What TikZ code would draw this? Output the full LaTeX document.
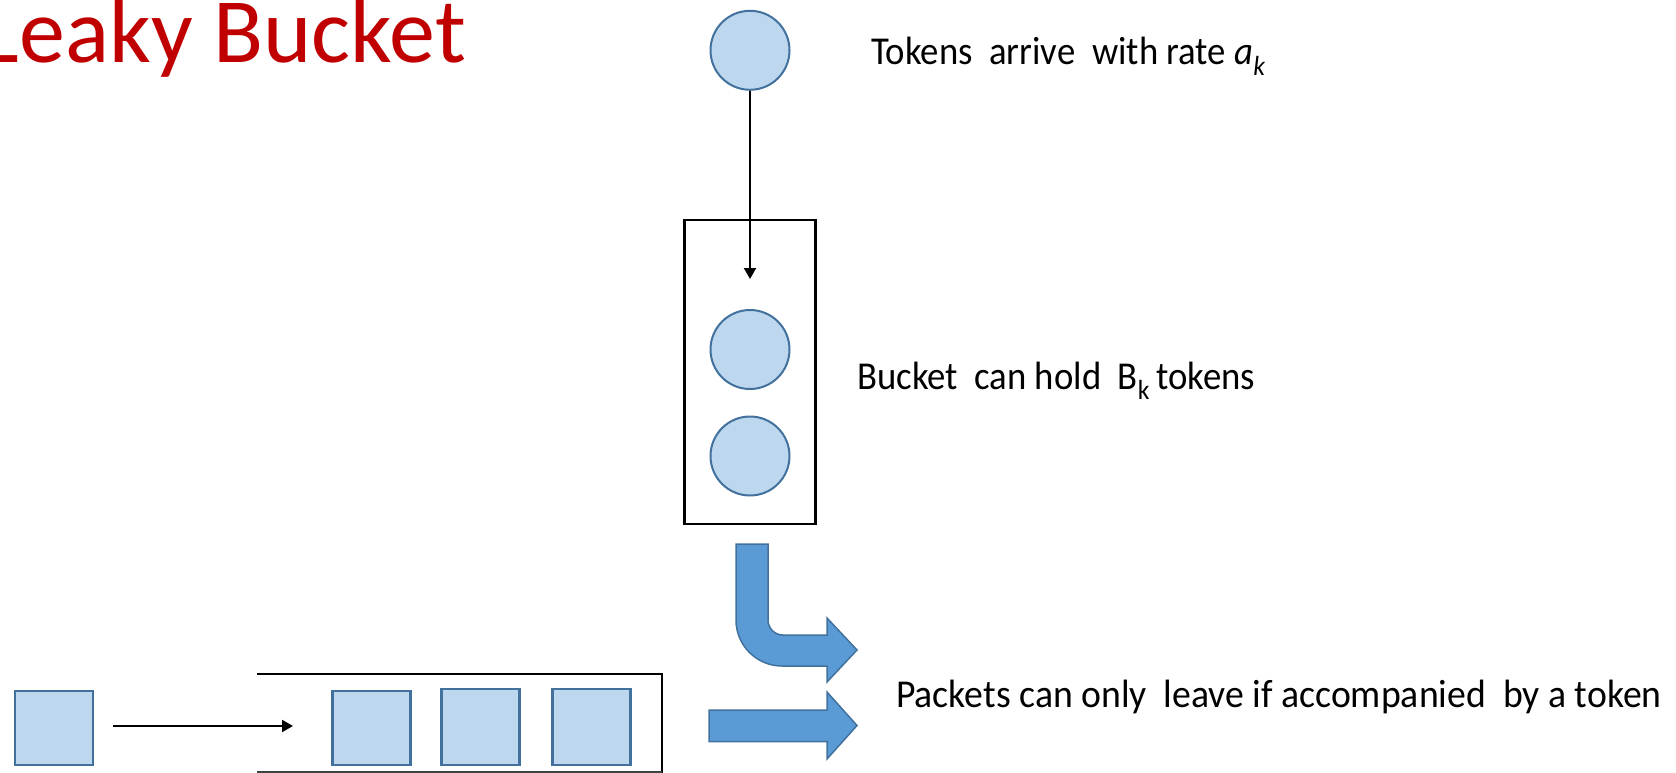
\documentclass[tikz,border=0pt]{standalone}
\usepackage{fontspec}
\setmainfont{Carlito}
\usetikzlibrary{arrows.meta}

\definecolor{tokfill}{RGB}{189,215,238}
\definecolor{tokline}{RGB}{65,113,156}
\definecolor{flowfill}{RGB}{91,155,213}
\definecolor{titlered}{RGB}{192,0,0}

% labels are set slightly condensed
\newcommand{\narrow}[2][0.93]{\scalebox{#1}[1]{#2}}

\tikzset{
  token/.style={circle, draw=tokline, fill=tokfill, line width=2pt, minimum size=79pt, inner sep=0pt},
  packet/.style={rectangle, draw=tokline, fill=tokfill, line width=2.4pt, minimum width=78pt, minimum height=74pt, inner sep=0pt},
  bucketbox/.style={rectangle, draw=black, line width=2.5pt, minimum width=131pt, minimum height=304pt, inner sep=0pt},
  feed/.style={draw=black, line width=2pt, -{Triangle[length=11pt,width=12pt]}},
  flow/.style={draw=tokline, fill=flowfill, line width=1.5pt, line join=miter},
  label/.style={anchor=base west, inner sep=0pt, font=\fontsize{39.5}{44}\selectfont},
}

\begin{document}
\begin{tikzpicture}[x=1pt, y=-1pt]
  \useasboundingbox (0,0) rectangle (1676,773);

  % title
  \node[anchor=base east, inner sep=0pt, text=titlered, font=\fontsize{92}{100}\selectfont] (title) at (466,63) {Leaky Bucket};

  % token source and the bucket
  \node[token] (src) at (750,50.3) {};
  \node[bucketbox] (bucket) at (750,372) {};
  \node[token] (b1) at (750,349.5) {};
  \node[token] (b2) at (750,456) {};
  \coordinate (drop) at (750,279);
  \draw[feed] (src.south) -- (drop);

  \node[label] (ltok) at (871,65) {\narrow{Tokens\ \ arrive\ \ with rate \textit{a}\textsubscript{\textit{k}}}};
  \node[label] (lbkt) at (857,389.3) {\narrow{Bucket\ \ can hold\ \ B\textsubscript{k}\,tokens}};

  % bent arrow: tokens leaving the bucket
  \path[flow] (736,544) -- (768,544) -- (768,620)
    .. controls (768,628.3) and (774.7,635) .. (783,635)
    -- (827,635) -- (827,618) -- (857,650) -- (827,682) -- (827,666) -- (782,666)
    .. controls (756.6,666) and (736,645.4) .. (736,620) -- cycle;

  % straight arrow: packets leaving the queue
  \path[flow] (709,710) -- (827,710) -- (827,692) -- (857,725.5) -- (827,759) -- (827,741.5) -- (709,741.5) -- cycle;

  \node[label] (lpkt) at (896,707) {\narrow[0.955]{Packets can only\ \ leave if accompanied\ \ by a token}};

  % packet queue
  \node[packet] (p0) at (54.2,728) {};
  \coordinate (qin) at (113,726);
  \coordinate (qend) at (293,726);
  \draw[feed] (qin) -- (qend);

  \draw[black, line width=2pt] (257,674.3) -- (662.3,674.3) -- (662.3,773);
  \draw[black!75, line width=1.5pt] (257,771.8) -- (662.3,771.8);

  \node[packet] (q1) at (371.4,728) {};
  \node[packet, minimum height=76pt] (q2) at (480.5,727) {};
  \node[packet, minimum height=76pt] (q3) at (591.3,727) {};
\end{tikzpicture}
\end{document}
